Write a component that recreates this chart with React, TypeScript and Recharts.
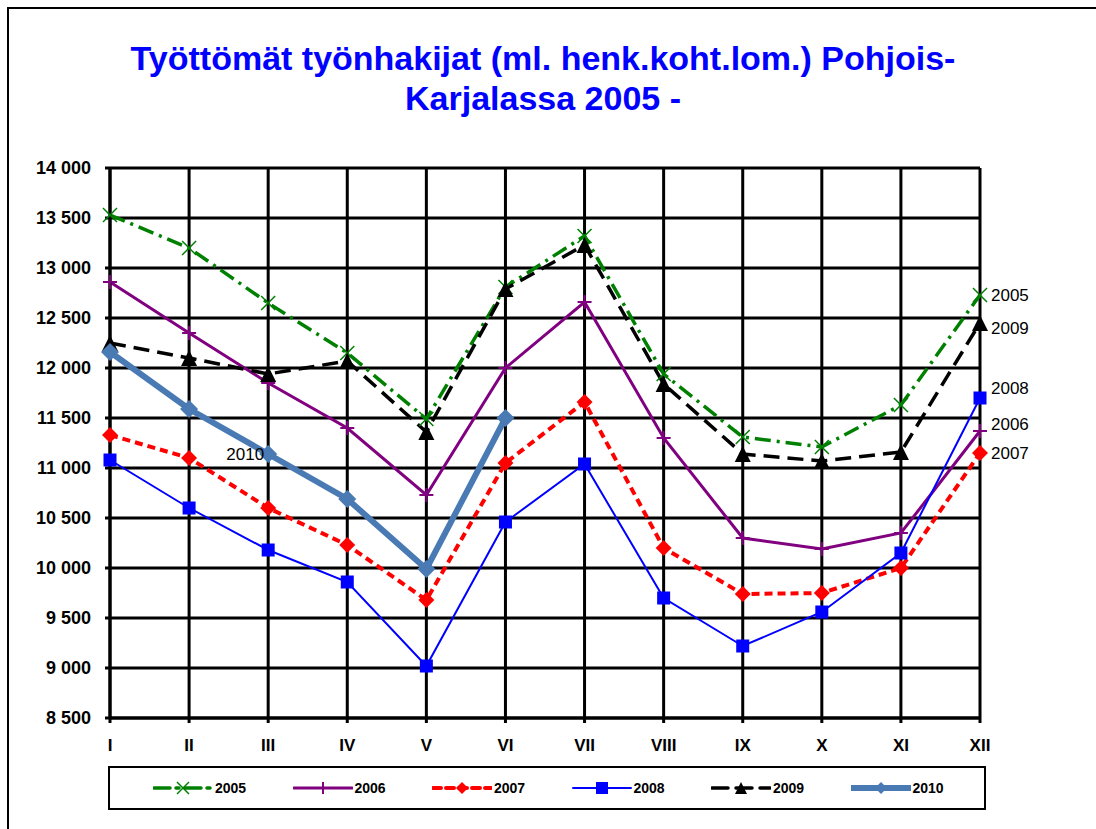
import React from 'react';
import { CartesianGrid, Legend, Line, LineChart, XAxis, YAxis } from 'recharts';

// Kuukaudet ja työttömien työnhakijoiden määrät (luettu kuvasta)
const months = ['I', 'II', 'III', 'IV', 'V', 'VI', 'VII', 'VIII', 'IX', 'X', 'XI', 'XII'];
const y2005 = [13530, 13200, 12650, 12150, 11490, 12810, 13320, 11940, 11310, 11210, 11630, 12730];
const y2006 = [12860, 12350, 11850, 11400, 10730, 12000, 12660, 11300, 10300, 10190, 10350, 11370];
const y2007 = [11330, 11100, 10600, 10230, 9680, 11050, 11660, 10200, 9740, 9750, 10000, 11150];
const y2008 = [11080, 10600, 10180, 9860, 9020, 10460, 11040, 9700, 9220, 9560, 10150, 11700];
const y2009 = [12250, 12100, 11940, 12070, 11360, 12790, 13230, 11840, 11140, 11070, 11160, 12450];
const y2010 = [12160, 11590, 11140, 10690, 9990, 11500];
const yTicks = [8500, 9000, 9500, 10000, 10500, 11000, 11500, 12000, 12500, 13000, 13500, 14000];

const data = months.map((m, i) => ({
  month: m,
  y2005: y2005[i],
  y2006: y2006[i],
  y2007: y2007[i],
  y2008: y2008[i],
  y2009: y2009[i],
  y2010: y2010[i],
}));

const FONT = '"Liberation Sans", Arial, sans-serif';

type Kind = 'cross' | 'plus' | 'diamond' | 'square' | 'triangle';

type SeriesDef = {
  key: string;
  name: string;
  color: string;
  width: number;
  dash?: string;
  marker: Kind;
  size: number;
  labelAt: number;
  labelDx: number;
  labelDy: number;
  anchor: 'start' | 'end';
};

const series: SeriesDef[] = [
  { key: 'y2005', name: '2005', color: '#008000', width: 3.5, dash: '16 6 3 6', marker: 'cross', size: 7, labelAt: 11, labelDx: 11, labelDy: 0, anchor: 'start' },
  { key: 'y2006', name: '2006', color: '#800080', width: 3, marker: 'plus', size: 7, labelAt: 11, labelDx: 11, labelDy: -7, anchor: 'start' },
  { key: 'y2007', name: '2007', color: '#ff0000', width: 4, dash: '8 5', marker: 'diamond', size: 8, labelAt: 11, labelDx: 11, labelDy: 0, anchor: 'start' },
  { key: 'y2008', name: '2008', color: '#0000ff', width: 2, marker: 'square', size: 6.5, labelAt: 11, labelDx: 11, labelDy: -10, anchor: 'start' },
  { key: 'y2009', name: '2009', color: '#000000', width: 3.5, dash: '16 8', marker: 'triangle', size: 8, labelAt: 11, labelDx: 11, labelDy: 5, anchor: 'start' },
  { key: 'y2010', name: '2010', color: '#4a7ab4', width: 6, marker: 'diamond', size: 9, labelAt: 2, labelDx: -4, labelDy: 0, anchor: 'end' },
];

function Marker({ kind, x, y, s, color }: { kind: Kind; x: number; y: number; s: number; color: string }) {
  switch (kind) {
    case 'cross':
      return (
        <g stroke={color} strokeWidth={1.5}>
          <line x1={x - s} y1={y - s} x2={x + s} y2={y + s} />
          <line x1={x - s} y1={y + s} x2={x + s} y2={y - s} />
        </g>
      );
    case 'plus':
      return (
        <g stroke={color} strokeWidth={2}>
          <line x1={x - s} y1={y} x2={x + s} y2={y} />
          <line x1={x} y1={y - s} x2={x} y2={y + s} />
        </g>
      );
    case 'diamond':
      return <polygon points={`${x},${y - s} ${x + s},${y} ${x},${y + s} ${x - s},${y}`} fill={color} />;
    case 'square':
      return <rect x={x - s} y={y - s} width={s * 2} height={s * 2} fill={color} />;
    case 'triangle':
      return <polygon points={`${x},${y - s} ${x + s},${y + s} ${x - s},${y + s}`} fill={color} />;
  }
  return null;
}

const makeDot = (d: SeriesDef) => (props: any) => {
  const { cx, cy, index } = props;
  if (cx == null || cy == null) return <g key={`d-${d.key}-${index}`} />;
  return (
    <g key={`d-${d.key}-${index}`}>
      <Marker kind={d.marker} x={cx} y={cy} s={d.size} color={d.color} />
    </g>
  );
};

const makeLabel = (d: SeriesDef) => (props: any) => {
  const { x, y, index } = props;
  if (index !== d.labelAt || x == null || y == null) return <g key={`l-${d.key}-${index}`} />;
  return (
    <text
      key={`l-${d.key}-${index}`}
      x={x + d.labelDx}
      y={y + d.labelDy}
      textAnchor={d.anchor}
      dominantBaseline="central"
      fontSize={17}
      fontFamily={FONT}
      fill="#000"
    >
      {d.name}
    </text>
  );
};

function LegendBox() {
  return (
    <div
      style={{
        boxSizing: 'border-box',
        width: 878,
        height: 44,
        border: '2.5px solid #000',
        display: 'flex',
        alignItems: 'center',
        paddingLeft: 43,
        fontFamily: FONT,
      }}
    >
      {series.map((d) => (
        <div key={d.key} style={{ width: 139.5, display: 'flex', alignItems: 'center', flex: 'none' }}>
          <svg width={60} height={20} style={{ display: 'block' }}>
            <line
              x1={1}
              y1={10}
              x2={59}
              y2={10}
              stroke={d.color}
              strokeWidth={d.width}
              strokeDasharray={d.dash}
              strokeLinecap="round"
            />
            <Marker kind={d.marker} x={30} y={10} s={Math.min(d.size, 6)} color={d.color} />
          </svg>
          <span style={{ fontSize: 14, fontWeight: 'bold', marginLeft: 2 }}>{d.name}</span>
        </div>
      ))}
    </div>
  );
}

const fmt = (v: number) => {
  const s = String(v);
  return s.length > 3 ? `${s.slice(0, -3)} ${s.slice(-3)}` : s;
};

export default function App() {
  return (
    <div
      style={{
        position: 'absolute',
        left: 0,
        top: 0,
        width: 1096,
        height: 829,
        overflow: 'hidden',
        background: '#fff',
      }}
    >
      <div
        style={{
          position: 'absolute',
          left: 7,
          top: 7,
          width: 1200,
          height: 1000,
          border: '2.5px solid #000',
        }}
      />
      <div
        style={{
          position: 'absolute',
          left: -5,
          top: 38,
          width: 1096,
          textAlign: 'center',
          color: '#0000ff',
          fontFamily: FONT,
          fontWeight: 'bold',
          fontSize: 34,
          lineHeight: '40px',
        }}
      >
        Työttömät työnhakijat (ml. henk.koht.lom.) Pohjois-
        <br />
        Karjalassa 2005 -
      </div>
      <LineChart
        width={1096}
        height={829}
        data={data}
        margin={{ top: 168, right: 116, left: 10, bottom: 81 }}
        style={{ position: 'absolute', left: 0, top: 0 }}
      >
        <CartesianGrid stroke="#000" strokeWidth={3} />
        <XAxis
          dataKey="month"
          scale="point"
          padding={{ left: 0, right: 0 }}
          height={30}
          axisLine={{ stroke: '#000', strokeWidth: 3 }}
          tickLine={{ stroke: '#000', strokeWidth: 3 }}
          tickSize={5}
          tickMargin={16}
          tick={{ fontSize: 17, fontWeight: 'bold', fill: '#000', fontFamily: FONT }}
          interval={0}
        />
        <YAxis
          domain={[8500, 14000]}
          ticks={yTicks}
          width={100}
          axisLine={{ stroke: '#000', strokeWidth: 3 }}
          tickLine={{ stroke: '#000', strokeWidth: 3 }}
          tickSize={5}
          tickMargin={14}
          tickFormatter={fmt}
          tick={{ fontSize: 18, fontWeight: 'bold', fill: '#000', fontFamily: FONT }}
          allowDataOverflow
        />
        <Legend
          layout="horizontal"
          verticalAlign="middle"
          align="center"
          content={() => <LegendBox />}
          wrapperStyle={{ left: 108, top: 766, width: 878, height: 44 }}
        />
        {series.map((d) => (
          <Line
            key={d.key}
            dataKey={d.key}
            name={d.name}
            type="linear"
            stroke={d.color}
            strokeWidth={d.width}
            strokeDasharray={d.dash}
            dot={makeDot(d)}
            activeDot={false}
            label={makeLabel(d)}
            isAnimationActive={false}
            connectNulls={false}
          />
        ))}
      </LineChart>
    </div>
  );
}
